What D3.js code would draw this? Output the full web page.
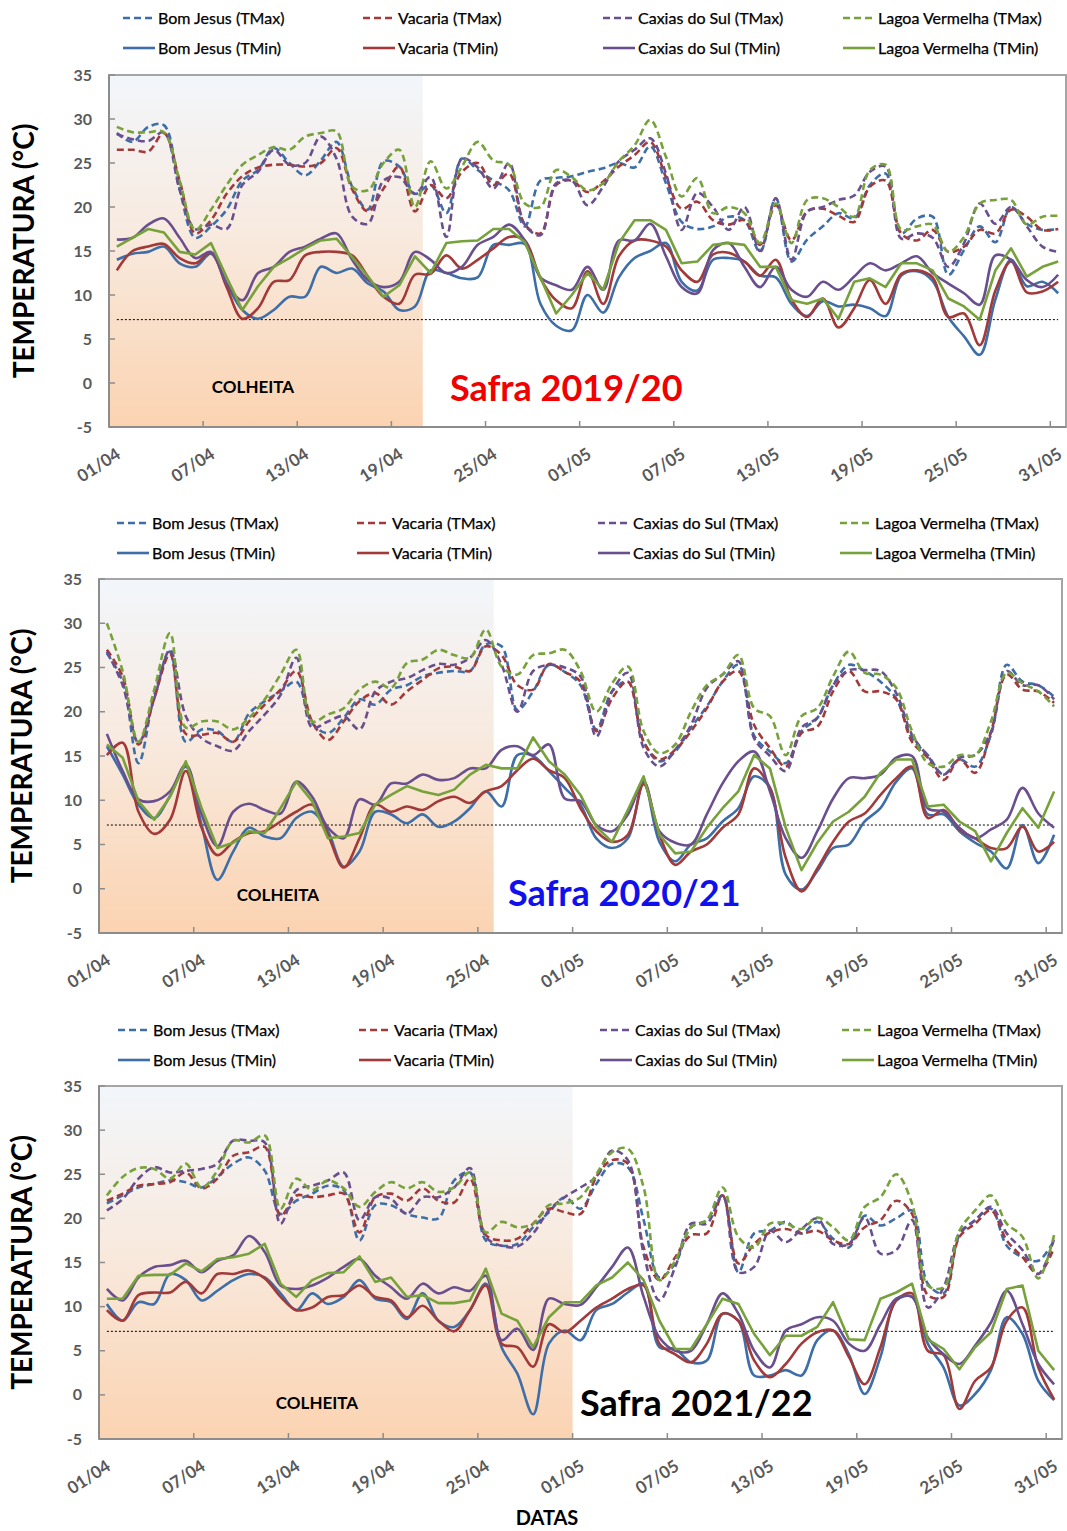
<!DOCTYPE html>
<html>
<head>
<meta charset="utf-8">
<script src="https://cdn.jsdelivr.net/npm/d3@7"></script>
<style>
  body { margin: 0; background: #fff; }
  svg { display: block; font-family: Lato, "Open Sans", sans-serif; }
</style>
</head>
<body>
<svg id="chart" width="1067" height="1531"></svg>
<script>
// categories: every day from 01/04 to 31/05
const days = d3.timeDay.range(new Date(2020, 3, 1), new Date(2020, 5, 1)).map(d3.timeFormat('%d/%m'));
const tickLabels = ['01/04', '07/04', '13/04', '19/04', '25/04', '01/05', '07/05', '13/05', '19/05', '25/05', '31/05'];
const yTicks = [-5, 0, 5, 10, 15, 20, 25, 30, 35];
const frostLine = 7.2;
const harvestDays = [20, 25, 30]; // days inside the COLHEITA band, per season

// ---- Safra 2019/20 ----
const bomJesusMax2019 = [28.4, 27.4, 29.1, 29.3, 22, 16.5, 17.8, 19.7, 23, 24.2, 26.7, 25, 23.6, 25.3, 27.4, 22.3, 19.7, 25.2, 24.6, 21.5, 22.5, 19.3, 25.5, 24.2, 23, 21.9, 17.8, 23, 23.3, 23.5,
  24, 24.4, 25, 24.5, 26.9, 22.7, 18.3, 17.5, 17.8, 18.9, 18.5, 14.9, 21, 13.8, 16.3, 17.8, 19.3, 18.7, 22.5, 23.8, 17, 18.7, 18.9, 12.3, 15.1, 17.8, 16, 20, 18.1, 17.4, 17.5];
const vacariaMax2019 = [26.5, 26.5, 26.3, 28.4, 23, 17, 18.5, 21.5, 23.5, 24.5, 24.8, 24.8, 24.6, 25, 26.7, 22, 19.5, 22.1, 24.6, 19.5, 22.5, 21, 24, 25, 22.5, 23.8, 18, 17, 22.5, 23,
  21.7, 22.9, 24.6, 25.9, 27.4, 23.4, 19.8, 20.6, 18.5, 18, 18.5, 15.7, 20.2, 16.2, 19.5, 19.8, 19, 18.3, 22.3, 23, 17, 16.2, 17.4, 14.9, 15.5, 17.4, 17, 19.7, 18.9, 17.4, 17.5];
const caxiasMax2019 = [28.3, 27.7, 27.5, 28.5, 22, 17.5, 18, 17.5, 22.5, 24, 26.5, 24.8, 25, 28, 25.5, 18.9, 18.1, 23, 23.4, 21.5, 23.4, 16.6, 25.5, 24.5, 22.1, 25, 18, 16.8, 22.7, 23,
  20.2, 22.3, 25.2, 26.5, 27.8, 23.8, 17.4, 21.6, 20, 17.4, 20, 15, 21, 14, 19.5, 20, 20.8, 21.3, 24, 24.6, 16.4, 17, 16.5, 13.2, 15.9, 20.4, 18.1, 20, 17.8, 15.5, 14.9];
const lagoaMax2019 = [29.1, 28.5, 28.5, 28.5, 23, 17.4, 19.7, 22.5, 24.8, 25.9, 26.8, 26.5, 28, 28.4, 28.6, 22.3, 21.9, 25, 26.5, 20, 25.2, 22.1, 24.6, 27.4, 25.3, 24.8, 20.4, 20, 24.2, 23.4,
  21.9, 22.7, 25.2, 27, 29.9, 25.7, 21.2, 23.3, 19.3, 20, 19.3, 15.9, 20.4, 15.9, 20.8, 21, 20, 18.9, 24.2, 24.8, 17.4, 17.8, 18, 14.9, 16.6, 20.4, 20.8, 20.8, 18, 18.9, 19];
const bomJesusMin2019 = [14, 14.7, 14.9, 15.5, 13.6, 13.2, 14.7, 11.3, 8.3, 7.3, 8.3, 9.8, 9.8, 13.2, 12.5, 13, 11.3, 10.4, 8.3, 8.7, 12.8, 12.5, 11.9, 12, 15.7, 15.7, 15.8, 9, 6.5, 6,
  10, 8, 12, 14.2, 15, 15.9, 11.5, 10.5, 14, 14.2, 13.8, 12.2, 12, 9, 7.6, 9.3, 8.7, 8.9, 8.5, 7.6, 12.2, 12.7, 11.6, 7.5, 5.3, 3.2, 9.5, 14, 11, 11.5, 10.2];
const vacariaMin2019 = [12.8, 15, 15.5, 15.8, 14.2, 13.6, 14.8, 10.9, 7.3, 8.5, 11.5, 11.7, 14.5, 14.9, 14.9, 14.5, 12.1, 9.8, 9, 12.3, 12.4, 14.5, 13, 14, 15.3, 16.6, 16.2, 11.9, 9.4, 8.5,
  12.7, 9, 14.4, 16.2, 16.2, 15.5, 12.8, 11.5, 14.6, 14.8, 13.8, 12.2, 14, 9.5, 7.5, 9.6, 6.3, 8.5, 11.7, 9, 12.4, 12.8, 12, 7.5, 7.9, 4.3, 10.5, 13.8, 10.3, 10.4, 11.5];
const caxiasMin2019 = [16.3, 16.5, 18, 18.7, 16.5, 14.2, 14.9, 11.3, 9.4, 12.5, 13.2, 14.9, 15.5, 16.4, 17, 14, 11.7, 10.9, 11.5, 14.9, 14, 12.5, 13.2, 15.7, 16.6, 18, 16.2, 12, 11.1, 10.6,
  13.2, 10.6, 16.2, 16.2, 18.1, 14.4, 10.9, 10.2, 15.1, 15.9, 13.2, 10.9, 13.2, 10.6, 9.8, 11.5, 10.6, 12.1, 13.6, 12.8, 13.6, 14.4, 12.5, 11.3, 10.2, 8.9, 14.5, 14, 11.7, 10.9, 12.3];
const lagoaMin2019 = [15.5, 16.5, 17.5, 17.1, 14.9, 14.6, 15.9, 12, 8.3, 11, 13.2, 14.2, 15.3, 16.2, 16.4, 14.3, 12.1, 9.8, 11.1, 14.4, 12.5, 15.9, 16.1, 16.2, 17.5, 17.5, 16, 12, 7.9, 10,
  12.5, 10.6, 15.9, 18.5, 18.5, 17.4, 13.6, 13.8, 15.7, 15.9, 15.7, 13.2, 13.2, 9.4, 9, 9.6, 7.3, 11.5, 11.9, 10.9, 13.6, 13.6, 12.8, 9.6, 8.7, 7.2, 12.8, 15.3, 12.1, 13.2, 13.8];

// ---- Safra 2020/21 ----
const bomJesusMax2020 = [26.6, 23.4, 14.2, 21.9, 26.8, 16.6, 18, 17.8, 16.6, 19.8, 21.2, 22.3, 23.4, 18.7, 17.6, 19.3, 21.4, 20.8, 22.5, 23, 24, 24.4, 24.6, 24.6, 27.6, 27.4, 20.2, 22.3, 25.3, 24.5,
  23, 18, 22.3, 23.4, 16.6, 14.4, 15.5, 18.2, 20.6, 23.4, 25.3, 17.3, 15.5, 14.2, 17.8, 19.3, 23, 25.3, 24.6, 23.4, 21.5, 17, 15.1, 12.9, 14.6, 13.8, 17.4, 25.3, 23.4, 23, 21.7];
const vacariaMax2020 = [27, 24, 16.3, 21.5, 26.5, 17.5, 17.4, 17.6, 16.6, 18.9, 20.8, 22.5, 24.6, 18.9, 16.8, 18.9, 21.2, 22.1, 20.8, 22.3, 23.6, 24.9, 25.1, 24.6, 27.4, 26.4, 23, 22.5, 25.4, 24.5,
  23.4, 17.8, 21.5, 23.4, 16.6, 14.6, 15.7, 17.8, 20.4, 23.4, 24.6, 18.5, 15.9, 13.8, 17.6, 18.3, 22.3, 24.6, 22.3, 22.3, 21.4, 16.6, 14.8, 12.3, 14.6, 13.1, 17.7, 24.2, 22.5, 22.3, 21];
const caxiasMax2020 = [26.8, 23, 16.5, 21.5, 27, 19.5, 17, 16.1, 15.6, 17.8, 19.7, 21.9, 26.1, 18.2, 18.9, 19.5, 18, 22.3, 23.4, 23.8, 24.7, 25.4, 25.3, 26.1, 28.1, 25.3, 20, 24.6, 25.3, 25,
  24, 17.2, 22.3, 24.4, 15.9, 13.8, 15.7, 18.5, 22.7, 24.2, 25.7, 17, 15, 13.3, 18.2, 19.3, 23, 24.7, 24.7, 24.6, 22.1, 17.4, 15, 12.9, 14.8, 15.1, 17.7, 24.6, 23, 23, 21.4];
const lagoaMax2020 = [30, 24.6, 16.6, 22.5, 28.9, 18.2, 18.9, 18.9, 18, 19.3, 21.4, 24.2, 27, 18.9, 19.7, 20.4, 22.5, 23.4, 22.7, 25.5, 25.9, 27, 26.4, 26.1, 29.3, 25.1, 24.2, 26.4, 26.6, 27,
  24.6, 20, 23.2, 25.1, 17.8, 15.3, 16.3, 20, 23, 24.2, 26.4, 20.4, 19.5, 15.1, 19.5, 20.4, 24, 26.8, 24.4, 24.2, 22.7, 17.8, 14.2, 13.8, 15.1, 15.1, 18.9, 24.4, 23.2, 22.3, 20.6];
const bomJesusMin2020 = [16.1, 12.9, 9.5, 8, 10.5, 13.8, 7.2, 1, 4.2, 6.9, 5.9, 5.7, 8, 8.7, 6.5, 2.5, 4.2, 8.7, 8.4, 7.4, 8.4, 7, 7.6, 9.1, 11, 9.3, 15.1, 15, 13.3, 11.4,
  9.5, 5.7, 4.6, 5.7, 12.1, 5.3, 3.1, 5, 5.7, 7.6, 9.1, 12.7, 11.4, 1.6, -0.1, 2, 4.6, 5, 7.6, 9.1, 12.1, 13.6, 8.4, 8.4, 6.5, 5.2, 4.2, 2.3, 7.2, 2.9, 6.1];
const vacariaMin2020 = [15.1, 16.5, 8.7, 6.2, 7.8, 13.3, 6.9, 3.8, 5.3, 6.3, 6.5, 7.6, 8.7, 9.5, 6.1, 2.4, 5.7, 9.5, 8.7, 9.3, 8.9, 9.9, 10.4, 9.7, 11, 11.6, 13.4, 14.7, 13.4, 12.5,
  9.1, 6.5, 5.3, 6.1, 11.8, 6.1, 2.7, 4.2, 5, 6.9, 8.4, 13.6, 11.4, 3.5, -0.3, 2.3, 5.3, 7.6, 8.5, 10.6, 12.5, 13.8, 8, 8.9, 6.7, 5.7, 4.6, 4.6, 7, 4.2, 5.3];
const caxiasMin2020 = [17.5, 13.3, 10.1, 9.9, 11, 14, 8.4, 4.8, 8.7, 9.6, 8.9, 8.5, 12.1, 10.4, 6.9, 5.7, 10.1, 9.5, 11.9, 11.9, 12.9, 12.3, 12.5, 13.6, 13.6, 15.7, 16.1, 15.1, 16.3, 10.2,
  9.9, 7.2, 6.5, 8.4, 12.1, 6.5, 5.2, 5, 8.4, 11.9, 14.4, 15.5, 11, 5.7, 3.5, 6.5, 10.2, 12.5, 12.5, 12.9, 14.8, 15, 9.1, 8.7, 6.9, 5.7, 6.7, 7.8, 11.4, 8.5, 6.9];
const lagoaMin2020 = [16.3, 14.8, 9.9, 7.8, 10.4, 14.4, 9.1, 4.6, 5.2, 6.5, 6.3, 9.1, 12.1, 9.9, 5.7, 5.9, 6.3, 9.5, 10.6, 11.6, 11, 10.6, 11.2, 12.9, 14, 13.6, 13.6, 17.1, 14.4, 12.9,
  10.6, 7, 5.3, 8.9, 12.7, 6.1, 4, 4.2, 6.9, 9.1, 11, 15.1, 13.6, 6.9, 2.1, 5.2, 7.6, 8.7, 10.4, 13.1, 14.6, 14.6, 9.3, 9.5, 7.6, 6.5, 3.1, 6.3, 9.1, 6.9, 11];

// ---- Safra 2021/22 ----
const bomJesusMax2021 = [21.7, 22.6, 23.5, 23.9, 24.3, 24.1, 23.5, 24.7, 26.2, 26.9, 25.4, 20.5, 22, 22.8, 23.7, 23.2, 17.5, 21.5, 21.5, 20.5, 20.1, 20, 24.3, 25.2, 17.5, 16.9, 17.1, 19, 20.7, 22.4,
  21.1, 23.9, 26.2, 25.8, 19.8, 13.3, 14.9, 19, 19.8, 22.6, 13.9, 18.3, 18.6, 19.6, 18.3, 19.6, 17.7, 16.7, 20.3, 19.2, 20, 20.9, 12.6, 11.5, 18.1, 19.8, 21.1, 16.9, 15.6, 15.2, 17.5];
const vacariaMax2021 = [22, 22.8, 23.7, 23.9, 24.1, 25.2, 23.4, 24.5, 27.1, 27.5, 28.1, 20.3, 22.6, 22.4, 22.6, 22.8, 18.4, 22.4, 22.8, 22, 23.4, 22, 21.8, 24.5, 18.1, 17.5, 17.7, 19.4, 21.1, 20.7,
  20.5, 24.7, 26.6, 26.2, 16.7, 13, 15.6, 18.1, 18.3, 22.6, 14.9, 17.1, 18.4, 18.8, 18.3, 18.6, 17.5, 17.1, 19, 19.8, 22, 20.5, 11.3, 11.1, 17.9, 19.4, 20.9, 17.5, 15.6, 13.7, 16.7];
const caxiasMax2021 = [20.9, 22.2, 24.5, 25.8, 25.2, 25.4, 25.6, 26.2, 28.8, 28.8, 28.6, 19.4, 23.2, 23.7, 24.3, 25.2, 19.8, 22.4, 22.2, 20.5, 22.4, 22.4, 23.5, 25.7, 17.9, 16.9, 16.8, 18.3, 20.9, 22.4,
  23.5, 24.7, 27.7, 26.6, 16, 10.7, 14.5, 19.4, 19.4, 22.6, 13.9, 14.5, 18.6, 17.3, 18.8, 20, 17.1, 17.1, 20.1, 16, 16.4, 19.8, 9.9, 12.2, 18.3, 19.8, 21.3, 18.3, 16.4, 13.7, 17.7];
const lagoaMax2021 = [22.6, 24.7, 25.7, 25.6, 24.5, 26.2, 23.5, 25.4, 28.8, 28.6, 29.4, 21.1, 24.5, 23.2, 24.3, 23.4, 21.3, 23, 24.1, 23.4, 24.1, 23, 23.5, 25.2, 18.4, 19.6, 19, 19.4, 21.5, 21.7,
  22.4, 25, 27.5, 27.9, 23.5, 13, 15.2, 19, 19.8, 23.5, 17.9, 16.7, 19.4, 19.4, 18.8, 20.1, 19, 17.5, 21.3, 22.4, 25, 21.7, 12.4, 12.2, 18.6, 20.9, 22.6, 19.4, 17.9, 13.2, 18.1];
const bomJesusMin2021 = [10.3, 8.4, 10.5, 10.3, 13.7, 13, 10.7, 11.8, 13, 13.7, 13.3, 11.5, 9.6, 11.5, 10.3, 11.1, 13, 10.9, 10.5, 8.6, 11.5, 8.4, 7.7, 9.6, 12.6, 5.4, 2.4, -2.2, 5.8, 7.3,
  6.2, 9.6, 10.3, 11.6, 12.6, 5.4, 5.2, 3.7, 3.9, 9.2, 8.4, 2.2, 2.2, 2.8, 2.2, 6.2, 7.3, 4.6, 0.1, 4.3, 10.7, 11.1, 5.8, 3.1, -1.2, 0.1, 2.8, 8.8, 6.9, 1.6, -0.6];
const vacariaMin2021 = [9.6, 8.4, 11.3, 11.6, 11.6, 12.8, 11.5, 13.7, 13.7, 14.1, 13.2, 11.1, 9.6, 9.9, 11.1, 11.3, 12.4, 11.1, 10.7, 8.8, 10.1, 8.4, 7.2, 9.6, 12.4, 5.8, 5.4, 3.2, 8, 7.1,
  8.4, 9.9, 10.9, 12, 12.4, 5.8, 4.6, 3.7, 5.8, 9.2, 8.4, 3.9, 2, 3.5, 5.8, 7.1, 7.3, 4.3, 1.2, 5.4, 10.7, 11.5, 5, 4.5, -1.6, 1.6, 3.1, 8.4, 9.9, 3.1, -0.5];
const caxiasMin2021 = [12, 10.7, 13.3, 14.5, 14.7, 15.2, 13.9, 15.2, 15.8, 18, 16.2, 12.4, 12, 12.4, 13.3, 14.5, 15.4, 13.5, 12.2, 10.9, 12.6, 11.5, 12.2, 11.8, 13.5, 6.2, 7.5, 5.1, 10.9, 10.3,
  10.2, 12.2, 14.5, 16.7, 11.1, 6.5, 5, 5, 8, 11.5, 9.2, 5, 3.1, 7.3, 8, 8.8, 8.4, 5.8, 5, 8, 10.9, 11.1, 6.5, 4.6, 3.5, 5.6, 8.2, 11.8, 8, 3.5, 1.2];
const lagoaMin2021 = [10.9, 10.9, 13.5, 13.6, 13.6, 14.9, 14, 15.4, 15.6, 16, 17.1, 12.6, 11.1, 13, 13.8, 13.9, 15.7, 12.8, 13.3, 11.1, 11.3, 10.4, 10.4, 10.7, 14.3, 9.2, 8.4, 5.4, 8.8, 10.5,
  10.5, 12.4, 13.3, 15, 13, 8.4, 5.2, 5.2, 8, 10.9, 10.3, 6.9, 4.5, 6.7, 6.7, 7.7, 10.5, 6.3, 6.2, 10.9, 11.6, 12.6, 6.3, 5.2, 2.9, 5.4, 7.1, 12, 12.4, 5, 2.8];

// ---- series look (legend order: all TMax first, then TMin) ----
const BLUE = '#3d6ea7', RED = '#a33a3a', PURPLE = '#6a4f8e', GREEN = '#77a13a';
const seriesNames = ['Bom Jesus (TMax)', 'Vacaria (TMax)', 'Caxias do Sul (TMax)', 'Lagoa Vermelha (TMax)',
  'Bom Jesus (TMin)', 'Vacaria (TMin)', 'Caxias do Sul (TMin)', 'Lagoa Vermelha (TMin)'];
const seriesColors = [BLUE, RED, PURPLE, GREEN, BLUE, RED, PURPLE, GREEN];

const seasonData = [
  [bomJesusMax2019, vacariaMax2019, caxiasMax2019, lagoaMax2019, bomJesusMin2019, vacariaMin2019, caxiasMin2019, lagoaMin2019],
  [bomJesusMax2020, vacariaMax2020, caxiasMax2020, lagoaMax2020, bomJesusMin2020, vacariaMin2020, caxiasMin2020, lagoaMin2020],
  [bomJesusMax2021, vacariaMax2021, caxiasMax2021, lagoaMax2021, bomJesusMin2021, vacariaMin2021, caxiasMin2021, lagoaMin2021]
];

// panel layout
const panels = [
  { safra: 'Safra 2019/20', safraColor: '#f00000', left: 109, right: 1066, top: 75, bottom: 427,
    legendY: 18, legendX: [123, 363, 603, 843], safraX: 450, safraY: 388, colheitaX: 253, colheitaY: 387, titleX: 24 },
  { safra: 'Safra 2020/21', safraColor: '#1010ee', left: 99, right: 1062, top: 579, bottom: 933,
    legendY: 523, legendX: [117, 357, 598, 840], safraX: 508, safraY: 893, colheitaX: 278, colheitaY: 895, titleX: 22 },
  { safra: 'Safra 2021/22', safraColor: '#000000', left: 99, right: 1062, top: 1086, bottom: 1439,
    legendY: 1030, legendX: [118, 359, 600, 842], safraX: 580, safraY: 1403, colheitaX: 317, colheitaY: 1403, titleX: 22 }
];

const svg = d3.select('#chart');
const defs = svg.append('defs');
const grad = defs.append('linearGradient')
  .attr('id', 'harvest-fill')
  .attr('x1', 0).attr('y1', 0).attr('x2', 0).attr('y2', 1);
grad.append('stop').attr('offset', '0%').attr('stop-color', '#f2f6fb');
grad.append('stop').attr('offset', '45%').attr('stop-color', '#f8eadf');
grad.append('stop').attr('offset', '100%').attr('stop-color', '#fbd3b1');

panels.forEach((p, pi) => {
  const data = seasonData[pi];
  const x = d3.scaleBand().domain(days).range([p.left, p.right]);
  const cx = d => x(d) + x.bandwidth() / 2;
  const y = d3.scaleLinear().domain([-5, 35]).range([p.bottom, p.top]);
  const g = svg.append('g').attr('class', 'panel');

  // harvest band
  g.append('rect')
    .attr('x', p.left)
    .attr('y', p.top)
    .attr('width', x(days[harvestDays[pi]]) - p.left)
    .attr('height', p.bottom - p.top)
    .attr('fill', 'url(#harvest-fill)');

  // plot frame
  g.append('rect')
    .attr('x', p.left).attr('y', p.top)
    .attr('width', p.right - p.left).attr('height', p.bottom - p.top)
    .attr('fill', 'none').attr('stroke', '#a5a5a5').attr('stroke-width', 2);

  // y axis ticks + labels
  yTicks.forEach(t => {
    g.append('line')
      .attr('x1', p.left).attr('x2', p.left + 6)
      .attr('y1', y(t)).attr('y2', y(t))
      .attr('stroke', '#8c8c8c').attr('stroke-width', 1.5);
    g.append('text')
      .attr('x', p.left - 17).attr('y', y(t))
      .attr('dy', '0.35em')
      .attr('text-anchor', 'end')
      .attr('font-size', 16).attr('font-weight', 'bold')
      .attr('fill', '#595959')
      .text(t);
  });

  // x axis ticks (category boundaries, every 6 days) + labels
  d3.range(6, days.length, 6).forEach(i => {
    g.append('line')
      .attr('x1', x(days[i])).attr('x2', x(days[i]))
      .attr('y1', p.bottom).attr('y2', p.bottom - 6)
      .attr('stroke', '#8c8c8c').attr('stroke-width', 1.5);
  });
  tickLabels.forEach(lbl => {
    const tx = cx(lbl) + 5, ty = p.bottom + 30;
    g.append('text')
      .attr('transform', `translate(${tx},${ty}) rotate(-33)`)
      .attr('text-anchor', 'end')
      .attr('font-size', 17).attr('font-weight', 'bold')
      .attr('fill', '#595959')
      .text(lbl);
  });

  // axis lines
  g.append('line')
    .attr('x1', p.left).attr('x2', p.left).attr('y1', p.top).attr('y2', p.bottom)
    .attr('stroke', '#8c8c8c').attr('stroke-width', 2);
  g.append('line')
    .attr('x1', p.left).attr('x2', p.right).attr('y1', p.bottom).attr('y2', p.bottom)
    .attr('stroke', '#8c8c8c').attr('stroke-width', 2);

  // y title
  g.append('text')
    .attr('transform', `translate(${p.titleX},${(p.top + p.bottom) / 2}) rotate(-90)`)
    .attr('text-anchor', 'middle').attr('dy', '0.35em')
    .attr('font-size', 28).attr('font-weight', 'bold')
    .attr('fill', '#000')
    .text('TEMPERATURA (°C)');

  // frost reference line
  g.append('line')
    .attr('x1', cx(days[0])).attr('x2', cx(days[days.length - 1]))
    .attr('y1', y(frostLine)).attr('y2', y(frostLine))
    .attr('stroke', '#000').attr('stroke-width', 1)
    .attr('stroke-dasharray', '2,2');

  // series
  const smooth = d3.line().x((v, i) => cx(days[i])).y(v => y(v)).curve(d3.curveCatmullRom.alpha(0.5));
  const straight = d3.line().x((v, i) => cx(days[i])).y(v => y(v));
  data.forEach((vals, si) => {
    g.append('path')
      .attr('d', si === 7 ? straight(vals) : smooth(vals))
      .attr('fill', 'none')
      .attr('stroke', seriesColors[si])
      .attr('stroke-width', 2.6)
      .attr('stroke-linejoin', 'round')
      .attr('stroke-dasharray', si < 4 ? '7,4' : null);
  });

  // legend
  seriesNames.forEach((name, si) => {
    const lx = p.legendX[si % 4];
    const ly = p.legendY + (si < 4 ? 0 : 30);
    g.append('line')
      .attr('x1', lx).attr('x2', lx + 32)
      .attr('y1', ly).attr('y2', ly)
      .attr('stroke', seriesColors[si]).attr('stroke-width', 2.6)
      .attr('stroke-dasharray', si < 4 ? '7,4' : null);
    g.append('text')
      .attr('x', lx + 35).attr('y', ly)
      .attr('dy', '0.35em')
      .attr('font-size', 16)
      .attr('fill', '#000')
      .attr('stroke', '#000').attr('stroke-width', 0.25)
      .text(name);
  });

  // annotations
  g.append('text')
    .attr('x', p.colheitaX).attr('y', p.colheitaY)
    .attr('dy', '0.35em').attr('text-anchor', 'middle')
    .attr('font-size', 17).attr('font-weight', 'bold')
    .attr('fill', '#000')
    .text('COLHEITA');
  g.append('text')
    .attr('x', p.safraX).attr('y', p.safraY)
    .attr('dy', '0.36em')
    .attr('font-size', 36).attr('font-weight', 'bold')
    .attr('fill', p.safraColor)
    .text(p.safra);
});

svg.append('text')
  .attr('x', 547).attr('y', 1518)
  .attr('dy', '0.35em').attr('text-anchor', 'middle')
  .attr('font-size', 20).attr('font-weight', 'bold')
  .text('DATAS');
</script>
</body>
</html>
